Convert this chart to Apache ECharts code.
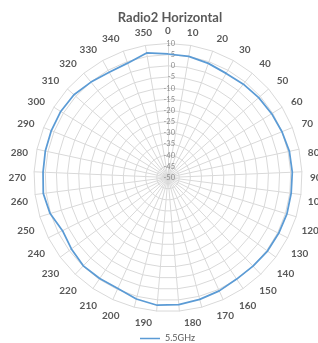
<!DOCTYPE html>
<html>
<head>
<meta charset="utf-8">
<script src="https://cdn.jsdelivr.net/npm/echarts@6/dist/echarts.min.js"></script>
<style>
  html, body { margin: 0; padding: 0; background: #fff; }
  #chart { width: 318px; height: 343px; }
</style>
</head>
<body>
<div id="chart"></div>
<script>
// angle tick labels, one every 10 degrees round the dial (no 110, none straight down)
const angleLabels = ['0', '10', '20', '30', '40', '50', '60', '70', '80', '90', '100',
    '120', '130', '140', '150', '160', '170', '180', '', '190', '200', '210', '220', '230',
    '240', '250', '260', '270', '280', '290', '300', '310', '320', '330', '340', '350'];
// 5.5GHz gain, dB, one value per spoke (37 spokes, clockwise from the top)
const gain55 = [5.3, 5.0, 4.2, 3.4, 3.7, 4.1, 4.5, 5.0, 5.6, 5.7, 5.6, 5.7,
    5.5, 5.4, 5.0, 4.9, 5.7, 6.4, 7.1, 7.4, 6.2, 4.5, 4.6, 4.8,
    3.8, 2.9, 5.2, 6.3, 6.0, 6.2, 6.3, 6.4, 6.1, 4.9, 4.0, 4.3, 6.6];
const rMin = -50, rMax = 10, rStep = 5;

const gridColor = '#d9d9d9';
const textColor = '#595959';
const center = [168, 177.5];
const radius = 134;

// radar runs counter-clockwise, the chart runs clockwise -> reorder
const n = gain55.length;
const order = gain55.map((v, j) => (n - j) % n);
const indicators = order.map(() => ({ name: '', min: rMin, max: rMax }));
const values = order.map(k => gain55[k]);

const chart = echarts.init(document.getElementById('chart'));
chart.setOption({
    animation: false,
    title: {
        text: 'Radio2 Horizontal',
        left: 165,
        textAlign: 'center',
        top: 6,
        textStyle: { fontFamily: 'Lato', fontWeight: 'bold', fontSize: 13, color: textColor }
    },
    legend: {
        bottom: 0,
        left: 140,
        padding: 0,
        icon: 'rect',
        itemWidth: 20,
        itemHeight: 1.5,
        itemGap: 3,
        textStyle: { fontFamily: 'Lato', fontSize: 9, color: textColor },
        data: ['5.5GHz']
    },
    radar: {
        center: center,
        radius: radius,
        startAngle: 90,
        shape: 'polygon',
        splitNumber: (rMax - rMin) / rStep,
        indicator: indicators,
        axisName: { show: false },
        axisLine: { lineStyle: { color: gridColor, width: 1 } },
        splitLine: { lineStyle: { color: gridColor, width: 1 } },
        splitArea: { show: false },
        axisLabel: { show: false }
    },
    // polar carries the angle labels and the radial tick labels
    polar: { center: center, radius: radius },
    angleAxis: {
        type: 'category',
        data: angleLabels,
        boundaryGap: false,
        startAngle: 90,
        clockwise: true,
        axisLine: { show: false },
        axisTick: { show: false },
        splitLine: { show: false },
        axisLabel: {
            fontFamily: 'Lato', fontWeight: 'bold', fontSize: 10,
            color: textColor, margin: 8, interval: 0
        }
    },
    radiusAxis: {
        type: 'value',
        min: rMin,
        max: rMax,
        interval: rStep,
        axisLine: { show: false },
        axisTick: { show: false },
        splitLine: { show: false },
        axisLabel: {
            fontFamily: 'Lato', fontSize: 7.5, color: '#8c8c8c',
            margin: -7, align: 'right', verticalAlign: 'middle'
        }
    },
    series: [{
        name: '5.5GHz',
        type: 'radar',
        symbol: 'none',
        lineStyle: { color: '#5b9bd5', width: 1.75 },
        itemStyle: { color: '#5b9bd5' },
        data: [{ name: '5.5GHz', value: values }]
    }]
});
</script>
</body>
</html>
